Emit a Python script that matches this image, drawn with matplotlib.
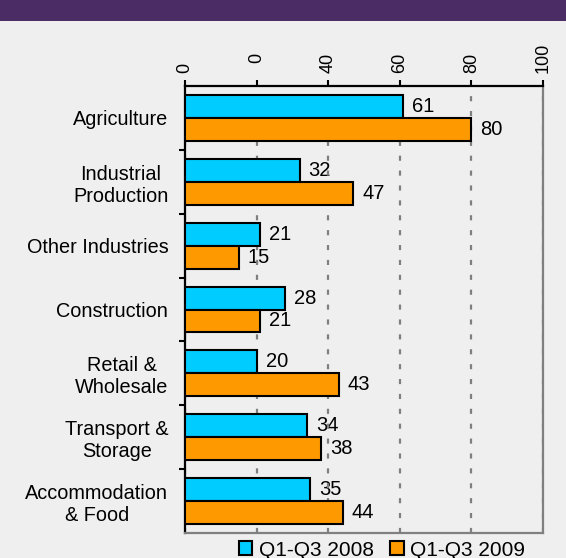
import numpy as np
import matplotlib
matplotlib.use("Agg")
import matplotlib.pyplot as plt
import matplotlib.transforms as mtrans
from matplotlib.patches import Rectangle

categories = ["Agriculture", "Industrial\nProduction", "Other Industries", "Construction",
              "Retail &\nWholesale", "Transport &\nStorage", "Accommodation\n& Food"]
values_2008 = [61, 32, 21, 28, 20, 34, 35]
values_2009 = [80, 47, 15, 21, 43, 38, 44]
series_labels = ["Q1-Q3 2008", "Q1-Q3 2009"]
x_ticks = [0, 20, 40, 60, 80, 100]
x_tick_labels = ["0", "0", "40", "60", "80", "100"]

plt.rcParams['font.family'] = ['Liberation Sans', 'DejaVu Sans']

BG = '#EFEFEF'
fig = plt.figure(figsize=(5.66, 5.58), dpi=100, facecolor=BG)
fig.patches.append(Rectangle((0, 1 - 21/558), 1, 21/558, transform=fig.transFigure,
                             facecolor='#4B2C65', edgecolor='none', zorder=0))

ax = fig.add_axes([185/566, 1 - 533/558, (543-185)/566, (533-86)/558])
ax.set_facecolor(BG)

y = np.arange(len(categories))
h = 0.36
b1 = ax.barh(y - h/2, values_2008, height=h, color='#00CCFF', edgecolor='black',
             linewidth=1.5, label=series_labels[0], zorder=3)
b2 = ax.barh(y + h/2, values_2009, height=h, color='#FF9900', edgecolor='black',
             linewidth=1.5, label=series_labels[1], zorder=3)

for yy, v in zip(y - h/2, values_2008):
    ax.annotate(str(v), (v, yy), xytext=(6.5, 0), textcoords='offset points',
                va='center', ha='left', fontsize=14.5, zorder=0.4)
for yy, v in zip(y + h/2, values_2009):
    ax.annotate(str(v), (v, yy), xytext=(6.5, 0), textcoords='offset points',
                va='center', ha='left', fontsize=14.5, zorder=0.4)

ax.set_xlim(0, 100)
ax.set_ylim(len(categories) - 0.5, -0.5)

ax.xaxis.tick_top()
ax.set_xticks(x_ticks)
ax.set_xticklabels(x_tick_labels, rotation=90, fontsize=13)
ax.tick_params(axis='x', length=4.5, width=1.5, color='black', pad=5)
lbl = ax.xaxis.get_major_ticks()[1].label2
lbl.set_transform(lbl.get_transform() + mtrans.ScaledTranslation(0, 0.095, fig.dpi_scale_trans))

ax.set_yticks(y)
ax.set_yticklabels(categories, fontsize=14.3)
for t in ax.get_yticklabels():
    t.set_multialignment('center')
ax.tick_params(axis='y', which='major', length=0, pad=12)
ax.set_yticks(np.arange(0.5, len(categories) - 0.5, 1), minor=True)
ax.tick_params(axis='y', which='minor', length=4, width=1.5, color='black')

ax.set_axisbelow(True)
ax.grid(axis='x', color='#7F7F7F', linewidth=1.6, linestyle=(0, (2.3, 4.4)))

for s in ['left', 'top']:
    ax.spines[s].set_color('black')
    ax.spines[s].set_linewidth(1.6)
for s in ['right', 'bottom']:
    ax.spines[s].set_color('#808080')
    ax.spines[s].set_linewidth(1.6)

fig.legend(handles=[b1, b2], loc='center', bbox_to_anchor=(382/566, 1 - 550/558), ncol=2,
           frameon=False, fontsize=15, handlelength=0.65, handleheight=0.65,
           handletextpad=0.3, columnspacing=0.8, borderpad=0)

fig.savefig('out.png', dpi=100, facecolor=BG)
